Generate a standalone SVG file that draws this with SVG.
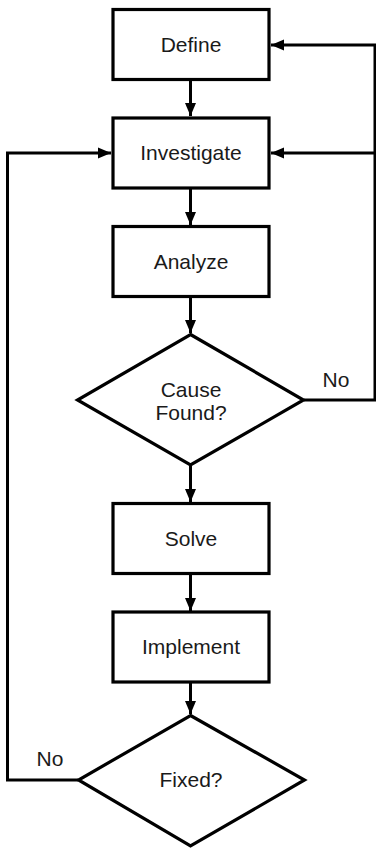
<svg xmlns="http://www.w3.org/2000/svg" width="376" height="848" viewBox="0 0 376 848">
<style>
.box{fill:#fff;stroke:#000;stroke-width:3.2}
.c{fill:none;stroke:#000;stroke-width:3}
text{font-family:"Liberation Sans",Arial,sans-serif;font-size:21px;fill:#1a1a1a;text-anchor:middle}
</style>
<defs>
<marker id="ah" markerUnits="userSpaceOnUse" markerWidth="14" markerHeight="14" viewBox="0 0 14 14" refX="13" refY="7" orient="auto">
<path d="M0,1.5 L13,7 L0,12.5 Z" fill="#000"/>
</marker>
</defs>
<rect width="376" height="848" fill="#fff"/>
<g id="connectors">
<line class="c" x1="190.5" y1="80" x2="190.5" y2="116" marker-end="url(#ah)"/>
<line class="c" x1="190.5" y1="189" x2="190.5" y2="225" marker-end="url(#ah)"/>
<line class="c" x1="190.5" y1="297" x2="190.5" y2="333" marker-end="url(#ah)"/>
<line class="c" x1="190.5" y1="466" x2="190.5" y2="502" marker-end="url(#ah)"/>
<line class="c" x1="190.5" y1="575" x2="190.5" y2="611" marker-end="url(#ah)"/>
<line class="c" x1="190.5" y1="683" x2="190.5" y2="714" marker-end="url(#ah)"/>
<polyline class="c" points="304,400 375,400 375,45 271,45" marker-end="url(#ah)"/>
<line class="c" x1="375" y1="153" x2="271" y2="153" marker-end="url(#ah)"/>
<polyline class="c" points="78,780 7.5,780 7.5,153 111,153" marker-end="url(#ah)"/>
</g>
<g id="define"><rect class="box" x="113" y="9.5" width="156" height="70"/><text x="191" y="52">Define</text></g>
<g id="investigate"><rect class="box" x="113" y="118" width="156" height="70"/><text x="191" y="160">Investigate</text></g>
<g id="analyze"><rect class="box" x="113" y="226.5" width="156" height="70"/><text x="191" y="269">Analyze</text></g>
<g id="cause"><polygon class="box" points="190.5,334.5 303.5,400 190.5,465 77.5,400"/><text x="191" y="396.5">Cause</text><text x="191" y="419.5">Found?</text></g>
<g id="solve"><rect class="box" x="113" y="503.5" width="156" height="70"/><text x="191" y="546">Solve</text></g>
<g id="implement"><rect class="box" x="113" y="612" width="156" height="70"/><text x="191" y="654">Implement</text></g>
<g id="fixed"><polygon class="box" points="190.5,715.5 304.5,780 190.5,846 78.5,780"/><text x="191" y="787">Fixed?</text></g>
<g id="labels"><text x="336" y="387">No</text><text x="50" y="766">No</text></g>
</svg>
